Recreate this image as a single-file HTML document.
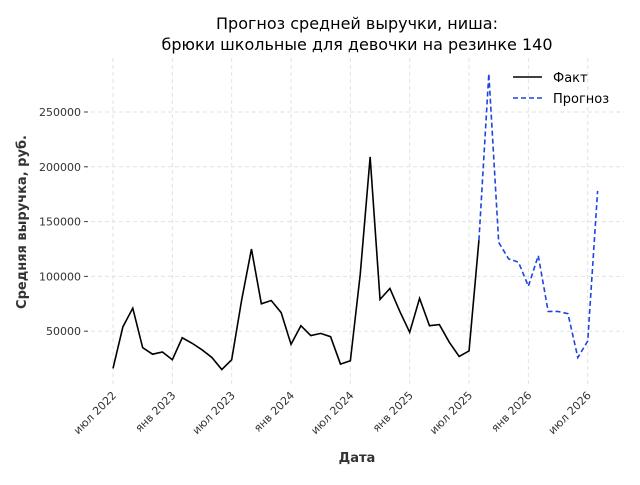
<!DOCTYPE html>
<html><head><meta charset="utf-8"><style>
body{margin:0;background:#fff;font-family:"Liberation Sans","DejaVu Sans",sans-serif}
svg text{font-family:"DejaVu Sans","Liberation Sans",sans-serif}
</style></head><body>
<svg id="c" width="640" height="480" xmlns="http://www.w3.org/2000/svg">
<text x="357" y="29" text-anchor="middle" font-size="16">Прогноз средней выручки, ниша:</text>
<text x="357" y="50" text-anchor="middle" font-size="16">брюки школьные для девочки на резинке 140</text>
<g id="grid"></g>
<g id="yt"></g>
<g id="xt"></g>
<g id="series"></g>
<text transform="translate(26,222) rotate(-90)" text-anchor="middle" font-size="13" font-weight="bold" fill="#333">Средняя выручка, руб.</text>
<text x="357" y="462" text-anchor="middle" font-size="13" font-weight="bold" fill="#333">Дата</text>
<g>
<line x1="513" y1="77" x2="542" y2="77" stroke="#000" stroke-width="1.6"/>
<text x="553" y="82" font-size="13">Факт</text>
<line x1="513" y1="98" x2="542" y2="98" stroke="#1f44e0" stroke-width="1.6" stroke-dasharray="5,3"/>
<text x="553" y="103" font-size="13">Прогноз</text>
</g>
</svg>
<script>
const factValues=[16000,54000,71000,35000,29000,31000,24000,44000,39000,33000,26000,15000,24000,78000,125000,75000,78000,67000,38000,55000,46000,48000,45000,20000,23000,102000,209000,79000,89000,68000,49000,80000,55000,56000,40000,27000,32000,133000];
const forecastValues=[133000,285000,131000,116000,113000,91000,119000,68000,68000,66000,26000,41000,178000];
const yTicks=[50000,100000,150000,200000,250000];
const xTickLabels=["июл 2022","янв 2023","июл 2023","янв 2024","июл 2024","янв 2025","июл 2025","янв 2026","июл 2026"];
const NS="http://www.w3.org/2000/svg";
const X0=113,DX=9.89,Y0=386,SY=54.8/50000;
const xs=i=>X0+i*DX, ys=v=>Y0-v*SY;
function mk(t,a,p){const e=document.createElementNS(NS,t);for(const k in a)e.setAttribute(k,a[k]);p.appendChild(e);return e;}
const grid=document.getElementById('grid'),yt=document.getElementById('yt'),xt=document.getElementById('xt'),se=document.getElementById('series');
yTicks.forEach(v=>{const y=ys(v);
const g=mk('line',{x1:84,x2:624,y1:y,y2:y,stroke:'#e2e2e2','stroke-dasharray':'4,3','stroke-width':1},grid);


const tk=mk('line',{x1:84,x2:88,y1:y,y2:y,stroke:'#444'},yt);


const t=mk('text',{x:81,y:y+4,'text-anchor':'end','font-size':11,fill:'#333'},yt);t.textContent=v;

});
xTickLabels.forEach((l,i)=>{const x=xs(i*6);
const g=mk('line',{x1:x,x2:x,y1:58,y2:386,stroke:'#e2e2e2','stroke-dasharray':'4,3','stroke-width':1},grid);


const t=mk('text',{transform:`translate(${x+4},${396}) rotate(-45)`,'text-anchor':'end','font-size':11,fill:'#333'},xt);t.textContent=l;

});
const fp=mk('polyline',{points:factValues.map((v,i)=>xs(i)+','+ys(v)).join(' '),fill:'none',stroke:'#000','stroke-width':1.6},se);


const off=factValues.length-1;
const pp=mk('polyline',{points:forecastValues.map((v,i)=>xs(i+off)+','+ys(v)).join(' '),fill:'none',stroke:'#1f44e0','stroke-width':1.6,'stroke-dasharray':'5,3'},se);


</script>
</body></html>
